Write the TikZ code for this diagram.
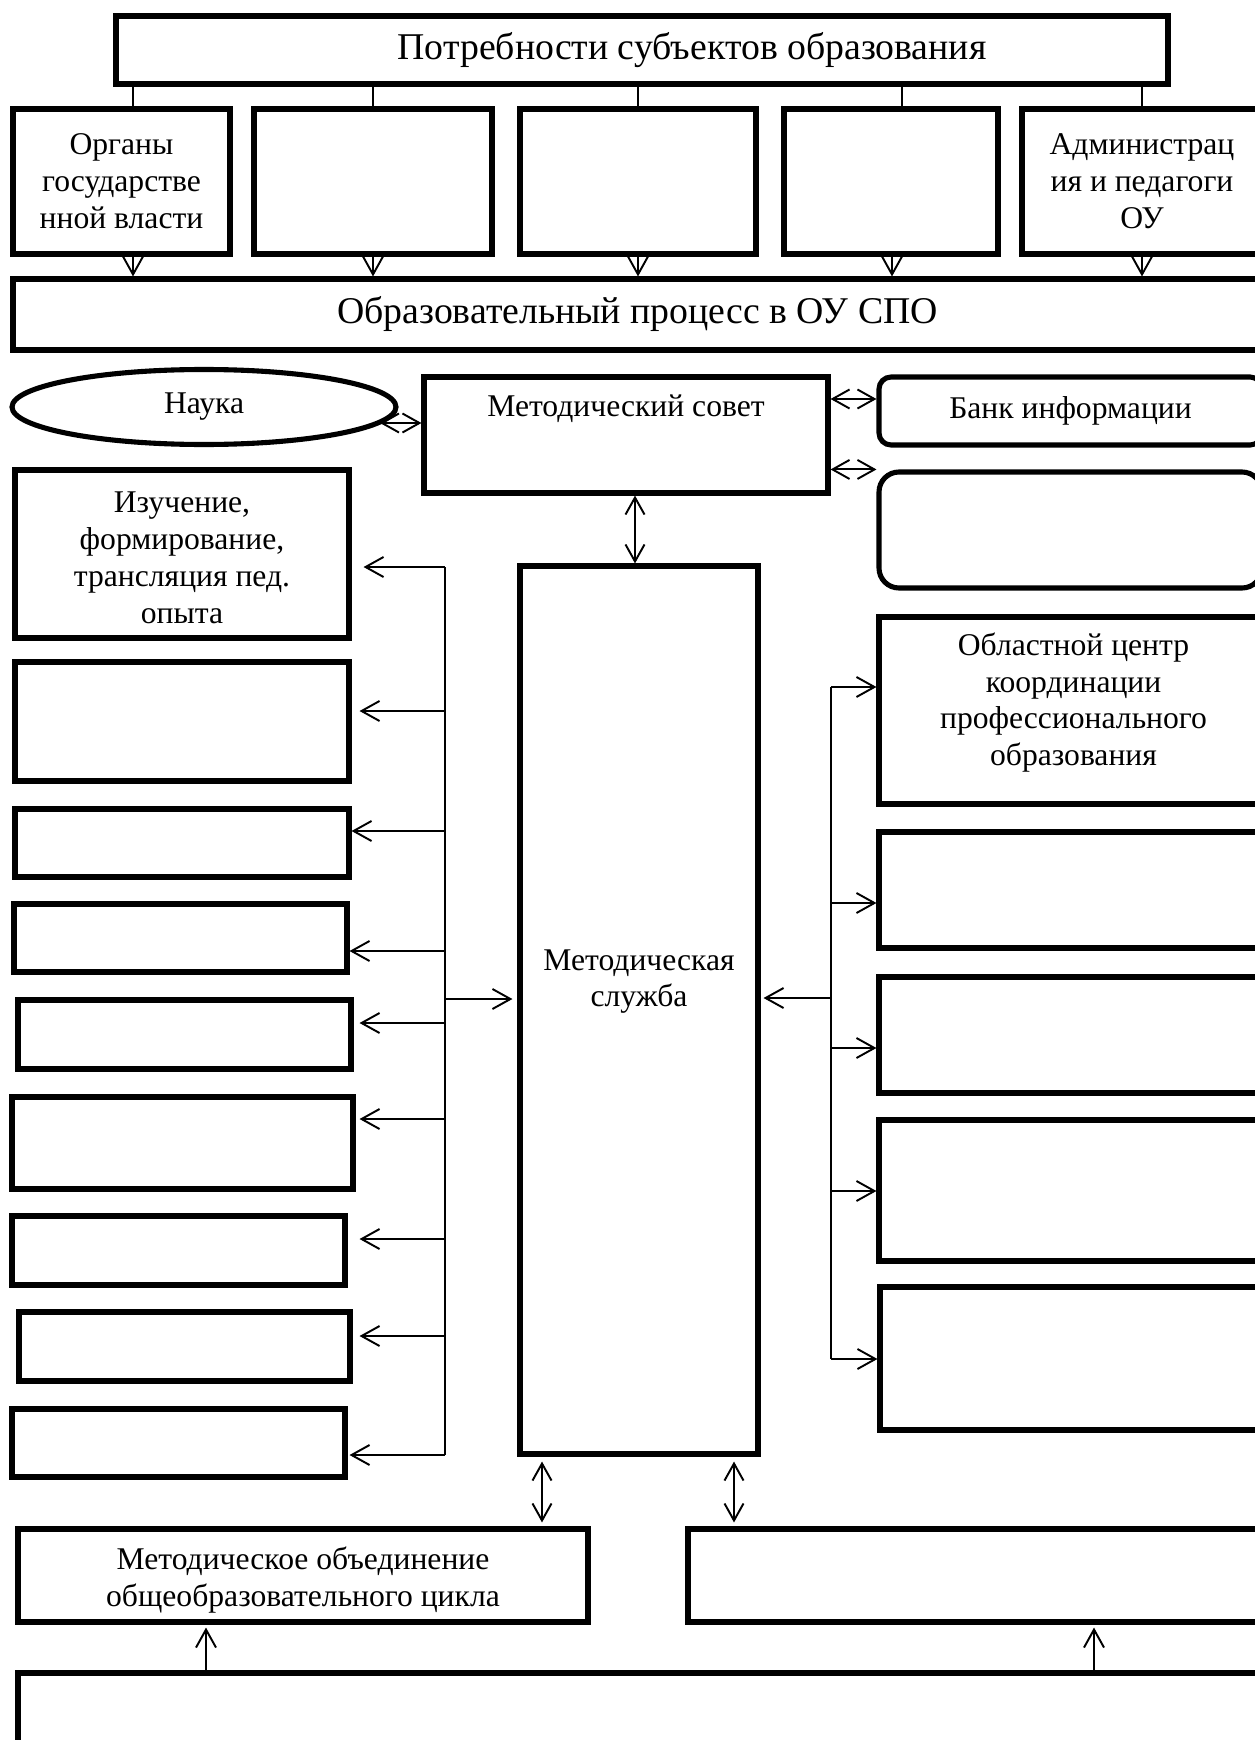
\documentclass[tikz,border=0pt]{standalone}
\usepackage{fontspec}
\setmainfont{Liberation Serif}
\usetikzlibrary{arrows.meta,positioning}
\usetikzlibrary{shapes.geometric}

\begin{document}
\begin{tikzpicture}
	[x=0.02cm,y=-0.02cm,font=\fontsize{18}{21}\selectfont,
	main box/.style={shape=rectangle,draw,line width=2.9pt,fill=white,align=center,inner sep=2pt},
	wh/.style 2 args={minimum width=#1*0.02cm,minimum height=#2*0.02cm},
	head text/.style={font=\fontsize{21.5}{25}\selectfont},
	bus/.style={line width=1.1pt},
	link/.style={line width=1.1pt,-{Straight Barb[length=0.36cm,width=0.4cm]}},
	dbl link/.style={line width=1.1pt,{Straight Barb[length=0.34cm,width=0.38cm]}-{Straight Barb[length=0.34cm,width=0.38cm]}}]
	\useasboundingbox (0,0) rectangle (1254,1740);

	\node [main box,wh={1052}{68},label={[xshift=1cm,head text]center:Потребности субъектов образования}] (needs) at (642,50) {};

	\node [main box,wh={217}{145}] (s1) at (121.5,181.5) {Органы\\государстве\\нной власти};
	\node [main box,wh={238}{145}] (s2) at (373,181.5) {};
	\node [main box,wh={236}{145}] (s3) at (638,181.5) {};
	\node [main box,wh={214}{145}] (s4) at (891,181.5) {};
	\node [main box,wh={240}{145}] (s5) at (1142,181.5) {Администрац\\ия и педагоги\\ОУ};

	\node [main box,wh={1249}{71},head text] (proc) at (637.5,314.5) {Образовательный процесс в ОУ СПО};

	\node [main box,shape=ellipse,wh={384}{75}] (nauka) at (204,407) {Наука};
	\node [main box,wh={404}{116},label={[anchor=north,yshift=-0.29cm]north:Методический совет}] (sovet) at (626,435) {};
	\node [main box,rounded corners=0.24cm,wh={383}{68}] (bank) at (1070.5,411) {Банк информации};
	\node [main box,rounded corners=0.4cm,wh={383}{116}] (info) at (1070.5,530) {};

	\node [main box,wh={238}{888},label={[yshift=0.57cm,align=center]center:Методическая\\служба}] (sluzhba) at (639,1010) {};

	% left column
	\node [main box,wh={334}{168},label={[yshift=-0.07cm,align=center]center:Изучение,\\формирование,\\трансляция пед.\\опыта}] (l1) at (182,554) {};
	\foreach \i/\x/\y/\w/\h in {2/182/721.5/334/119, 3/182/843/334/68, 4/180.5/938/333/68,
		5/184.5/1034.5/333/69, 6/182.5/1143/341/92, 7/178.5/1250.5/333/69,
		8/184.5/1346.5/331/69, 9/178.5/1443/333/68}
		\node [main box,wh={\w}{\h}] (l\i) at (\x,\y) {};

	% right column
	\node [main box,wh={389}{187},label={[yshift=0.16cm,align=center]center:Областной центр\\координации\\профессионального\\образования}] (r1) at (1073.5,710.5) {};
	\foreach \i/\x/\y/\h in {2/1073.5/890/116, 3/1073.5/1035/116, 4/1073.5/1190.5/141, 5/1074.5/1358.5/143}
		\node [main box,wh={389}{\h}] (r\i) at (\x,\y) {};

	\node [main box,wh={570}{93},label={[yshift=-0.09cm,align=center]center:Методическое объединение\\общеобразовательного цикла}] (mo) at (303,1575.5) {};
	\node [main box,wh={580}{93}] (mr) at (978,1575.5) {};
	\node [main box,wh={1250}{85}] (base) at (643,1715.5) {};

	% needs -> subjects -> process
	\foreach \n/\x/\a in {s1/133/133, s2/373/373, s3/638/638, s4/902/892, s5/1142/1142}{
		\draw [bus] (needs.south -| \x,0) -- (\n.north -| \x,0);
		\draw [link] (\n.south -| \a,0) -- (proc.north -| \a,0);
	}

	\coordinate (nk) at (380,423);
	\draw [dbl link] (nk) -- (nk -| sovet.west);
	\draw [dbl link] (sovet.east |- 0,399) -- (bank.west |- 0,399);
	\draw [dbl link] (sovet.east |- info.north west) -- (info.north west);
	\draw [dbl link] (sovet.south -| 635,0) -- (sluzhba.north -| 635,0);

	% left bus
	\coordinate (lbus) at (445,567);
	\draw [bus] (lbus) -- (lbus |- 0,1455);
	\foreach \i/\y/\g in {1/567/12, 2/711/8, 3/831/0, 4/951/0, 5/1023/6, 6/1119/4, 7/1239/12, 8/1336/7, 9/1455/2}
		\draw [link,shorten >=\g*0.02cm] (lbus |- 0,\y) -- (l\i.east |- 0,\y);
	\draw [link,shorten >=0.1cm] (lbus |- 0,999) -- (sluzhba.west |- 0,999);

	% right bus
	\coordinate (rbus) at (831,687);
	\draw [bus] (rbus) -- (rbus |- 0,1359);
	\foreach \i/\y in {1/687, 2/903, 3/1048, 4/1191, 5/1359}
		\draw [link] (rbus |- 0,\y) -- (r\i.west |- 0,\y);
	\draw [link,shorten >=0.06cm] (rbus |- 0,998) -- (sluzhba.east |- 0,998);

	\draw [dbl link,shorten <=0.1cm,shorten >=0.08cm] (sluzhba.south -| 542,0) -- (mo.north -| 542,0);
	\draw [dbl link,shorten <=0.1cm,shorten >=0.08cm] (sluzhba.south -| 734,0) -- (mr.north -| 734,0);
	\draw [link,shorten >=0.06cm] (base.north -| 206,0) -- (mo.south -| 206,0);
	\draw [link,shorten >=0.06cm] (base.north -| 1094,0) -- (mr.south -| 1094,0);

\end{tikzpicture}
\end{document}
